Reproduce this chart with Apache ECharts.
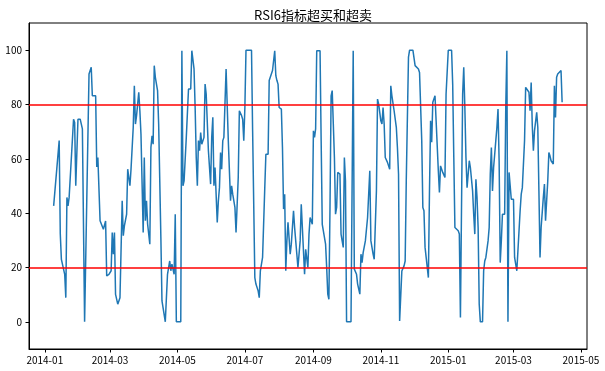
<!DOCTYPE html>
<html>
<head>
<meta charset="utf-8">
<script src="https://cdn.jsdelivr.net/npm/echarts@6/dist/echarts.min.js"></script>
<style>
html,body{margin:0;padding:0;background:#fff;}
#chart{width:605px;height:371px;}
</style>
</head>
<body>
<div id="chart"></div>
<script>
const titleText = 'RSI6指标超买和超卖';
const dates = [
'2014-01-09','2014-01-14','2014-01-15','2014-01-16','2014-01-19','2014-01-20','2014-01-21','2014-01-22','2014-01-23','2014-01-27',
'2014-01-28','2014-01-29','2014-01-31','2014-02-02','2014-02-04','2014-02-06','2014-02-10','2014-02-11','2014-02-12','2014-02-13',
'2014-02-16','2014-02-17','2014-02-18','2014-02-20','2014-02-23','2014-02-25','2014-02-26','2014-02-28','2014-03-02','2014-03-03',
'2014-03-04','2014-03-05','2014-03-06','2014-03-08','2014-03-09','2014-03-10','2014-03-12','2014-03-13','2014-03-14','2014-03-16',
'2014-03-17','2014-03-18','2014-03-19','2014-03-20','2014-03-22','2014-03-23','2014-03-24','2014-03-25','2014-03-27','2014-03-28',
'2014-03-29','2014-03-31','2014-04-01','2014-04-02','2014-04-03','2014-04-04','2014-04-06','2014-04-07','2014-04-08','2014-04-09',
'2014-04-10','2014-04-11','2014-04-13','2014-04-14','2014-04-16','2014-04-17','2014-04-20','2014-04-22','2014-04-24','2014-04-25',
'2014-04-26','2014-04-28','2014-04-29','2014-04-30','2014-05-04','2014-05-05','2014-05-06','2014-05-07','2014-05-09','2014-05-11',
'2014-05-13','2014-05-14','2014-05-15','2014-05-16','2014-05-17','2014-05-18','2014-05-19','2014-05-20','2014-05-21','2014-05-22',
'2014-05-23','2014-05-25','2014-05-26','2014-05-27','2014-05-29','2014-05-31','2014-06-01','2014-06-02','2014-06-03','2014-06-04',
'2014-06-05','2014-06-06','2014-06-07','2014-06-08','2014-06-09','2014-06-10','2014-06-11','2014-06-12','2014-06-14','2014-06-16',
'2014-06-18','2014-06-19','2014-06-20','2014-06-22','2014-06-23','2014-06-25','2014-06-26','2014-06-28','2014-06-29','2014-06-30',
'2014-07-01','2014-07-02','2014-07-07','2014-07-08','2014-07-10','2014-07-11','2014-07-13','2014-07-14','2014-07-15','2014-07-17',
'2014-07-19','2014-07-20','2014-07-22','2014-07-23','2014-07-26','2014-07-28','2014-07-29','2014-07-30','2014-07-31','2014-08-01',
'2014-08-02','2014-08-03','2014-08-04','2014-08-05','2014-08-06','2014-08-07','2014-08-08','2014-08-09','2014-08-11','2014-08-12',
'2014-08-14','2014-08-15','2014-08-17','2014-08-18','2014-08-20','2014-08-21','2014-08-23','2014-08-24','2014-08-25','2014-08-26',
'2014-08-27','2014-08-28','2014-08-29','2014-08-31','2014-09-01','2014-09-02','2014-09-03','2014-09-04','2014-09-07','2014-09-08',
'2014-09-09','2014-09-10','2014-09-12','2014-09-13','2014-09-14','2014-09-15','2014-09-16','2014-09-17','2014-09-18','2014-09-19',
'2014-09-20','2014-09-21','2014-09-22','2014-09-23','2014-09-25','2014-09-26','2014-09-27','2014-09-28','2014-09-29','2014-09-30',
'2014-10-01','2014-10-05','2014-10-07','2014-10-08','2014-10-10','2014-10-11','2014-10-13','2014-10-14','2014-10-15','2014-10-16',
'2014-10-18','2014-10-20','2014-10-22','2014-10-23','2014-10-24','2014-10-25','2014-10-26','2014-10-28','2014-10-29','2014-10-30',
'2014-11-01','2014-11-02','2014-11-03','2014-11-04','2014-11-05','2014-11-07','2014-11-09','2014-11-10','2014-11-11','2014-11-12',
'2014-11-13','2014-11-15','2014-11-16','2014-11-17','2014-11-18','2014-11-20','2014-11-22','2014-11-23','2014-11-24','2014-11-26',
'2014-11-27','2014-11-30','2014-12-02','2014-12-03','2014-12-05','2014-12-06','2014-12-07','2014-12-08','2014-12-09','2014-12-10',
'2014-12-11','2014-12-12','2014-12-14','2014-12-15','2014-12-16','2014-12-17','2014-12-18','2014-12-19','2014-12-20','2014-12-21',
'2014-12-23','2014-12-24','2014-12-25','2014-12-27','2014-12-29','2014-12-30','2015-01-01','2015-01-04','2015-01-05','2015-01-06',
'2015-01-07','2015-01-08','2015-01-10','2015-01-11','2015-01-12','2015-01-14','2015-01-15','2015-01-16','2015-01-17','2015-01-18',
'2015-01-19','2015-01-20','2015-01-21','2015-01-23','2015-01-24','2015-01-25','2015-01-26','2015-01-27','2015-01-28','2015-01-29',
'2015-01-30','2015-02-01','2015-02-02','2015-02-03','2015-02-04','2015-02-05','2015-02-06','2015-02-07','2015-02-08','2015-02-09',
'2015-02-10','2015-02-11','2015-02-12','2015-02-13','2015-02-14','2015-02-15','2015-02-16','2015-02-17','2015-02-18','2015-02-19',
'2015-02-21','2015-02-22','2015-02-23','2015-02-24','2015-02-25','2015-02-26','2015-02-27','2015-03-01','2015-03-02','2015-03-03',
'2015-03-04','2015-03-05','2015-03-07','2015-03-08','2015-03-09','2015-03-10','2015-03-11','2015-03-12','2015-03-13','2015-03-15',
'2015-03-16','2015-03-17','2015-03-18','2015-03-19','2015-03-20','2015-03-22','2015-03-23','2015-03-24','2015-03-25','2015-03-26',
'2015-03-28','2015-03-29','2015-03-30','2015-04-01','2015-04-02','2015-04-03','2015-04-04','2015-04-06','2015-04-07','2015-04-08',
'2015-04-09','2015-04-10','2015-04-11','2015-04-13','2015-04-14'
];
const rsi6 = [
42.7,66.7,32.3,23.0,17.5,8.9,45.8,42.7,45.8,74.6,
73.4,50.1,74.6,74.6,71.0,0,91.2,91.8,93.7,83.2,
83.2,57.0,60.5,37.2,34.1,37.1,16.9,17.5,18.8,32.9,
24.9,32.9,10.1,6.5,5.9,8.9,44.6,31.7,35.3,39.6,
56.2,56.2,50.1,56.2,71.6,86.9,72.8,75.9,84.5,77.7,
69.1,32.9,60.5,37.2,44.6,36.0,28.6,64.2,68.5,65.4,
94.3,90.0,85.1,72.8,31.0,7.7,0,17.5,22.4,18.8,
21.2,17.5,39.6,0,0,99.8,50.1,51.9,67.9,85.7,
85.7,99.8,99.8,93.1,78.9,60.5,50.1,66.7,63.0,69.7,
65.4,67.9,87.5,83.8,63.0,50.7,67.9,75.3,50.1,56.8,
56.8,36.6,44.5,49.4,62.3,56.2,66.7,67.9,93.1,66.7,
44.6,50.1,47.0,42.1,32.9,53.2,77.7,75.9,74.6,66.7,
78.9,100,100,70.4,16.3,13.9,11.4,8.9,18.8,23.7,
49.4,61.7,61.7,88.8,92.5,99.8,90.6,88.8,87.5,78.9,
78.9,78.3,64.2,41.5,47.0,18.8,29.8,36.6,24.9,28.6,
40.9,34.7,24.9,20.0,29.8,43.3,26.1,17.5,26.7,26.7,
20.0,32.3,38.4,35.9,70.3,67.9,71.0,99.8,99.8,66.7,
35.9,35.3,28.6,20.0,10.2,8.3,42.1,83.2,85.1,72.8,
60.5,39.6,42.1,55.0,54.4,32.3,29.8,27.4,60.5,51.9,
0,0,99.8,19.4,17.5,13.9,10.2,24.9,21.8,25.5,
29.8,38.4,55.6,29.8,29.2,24.9,23.0,48.2,82.0,80.2,
74.0,72.8,78.9,72.8,60.5,58.7,56.2,86.9,83.2,83.2,
77.7,71.6,64.2,54.4,0.3,18.7,20.6,22.4,51.9,97.4,
100,100,94.3,93.9,93.1,91.8,91.2,66.7,42.1,40.9,
27.4,23.7,16.3,48.2,74.0,66.1,80.8,82.0,83.2,74.0,
55.6,47.6,57.4,55.0,53.1,83.8,100,100,87.5,60.5,
34.7,34.1,33.5,32.3,1.6,83.8,93.7,78.9,60.5,49.4,
49.4,59.3,56.8,48.2,39.6,32.3,52.5,45.8,34.7,6.5,
0,0,18.8,22.4,23.7,23.0,29.8,34.7,54.4,64.2,
48.2,56.8,61.7,66.7,71.6,78.3,59.3,21.8,29.8,39.6,
39.6,78.9,99.8,0,55.0,55.6,45.1,45.1,23.7,21.2,
18.8,26.1,40.9,47.0,49.4,50.1,66.7,86.3,85.7,84.5,
77.7,88.1,72.2,63.0,70.3,77.1,71.6,48.2,23.7,34.7,
45.8,50.7,37.2,51.9,62.3,61.1,59.3,58.1,86.9,75.2,
90.0,91.2,91.8,92.5,80.8
];
const yTicks = [0, 20, 40, 60, 80, 100];
const xTicks = ['2014-01-01','2014-03-01','2014-05-01','2014-07-01','2014-09-01','2014-11-01','2015-01-01','2015-03-01','2015-05-01'];
const thresholds = [20, 80];

const parse = s => +echarts.number.parseDate(s);
const fmtMonth = v => {
  const d = new Date(v);
  const m = d.getMonth() + 1;
  return d.getFullYear() + '-' + (m < 10 ? '0' + m : '' + m);
};
const font = '"Noto Sans CJK SC", "DejaVu Sans", sans-serif';

const chart = echarts.init(document.getElementById('chart'), null, {renderer: 'canvas'});
chart.setOption({
  animation: false,
  backgroundColor: '#fff',
  title: {
    text: titleText,
    left: 308, top: 4, textAlign: 'center',
    textStyle: {fontSize: 13, fontWeight: 'normal', color: '#000', fontFamily: font}
  },
  grid: {
    left: 29, right: 18, top: 23, bottom: 22,
    show: true, borderColor: '#000', borderWidth: 1,
    outerBoundsMode: 'none'
  },
  xAxis: {
    type: 'value',
    min: parse('2013-12-17 16:48:00'),
    max: parse('2015-05-06 12:00:00'),
    axisLine: {show: true, onZero: false, lineStyle: {color: '#000', width: 1}},
    axisTick: {show: true, length: 3.5, lineStyle: {color: '#000', width: 1}, customValues: xTicks.map(parse)},
    axisLabel: {
      customValues: xTicks.map(parse),
      formatter: fmtMonth,
      color: '#000', fontSize: 10, fontFamily: font, margin: 6
    },
    splitLine: {show: false}
  },
  yAxis: {
    type: 'value',
    min: -10, max: 110,
    axisLine: {show: true, onZero: false, lineStyle: {color: '#000', width: 1}},
    axisTick: {show: true, length: 3.5, lineStyle: {color: '#000', width: 1}, customValues: yTicks},
    axisLabel: {customValues: yTicks, color: '#000', fontSize: 10, fontFamily: font, margin: 7},
    splitLine: {show: false}
  },
  series: [{
    type: 'line',
    data: dates.map((d, i) => [parse(d), rsi6[i]]),
    showSymbol: false,
    symbol: 'none',
    lineStyle: {color: '#1f77b4', width: 1.5},
    itemStyle: {color: '#1f77b4'},
    markLine: {
      silent: true,
      symbol: ['none', 'none'],
      label: {show: false},
      lineStyle: {color: '#ff0000', width: 1.5, type: 'solid'},
      data: thresholds.map(v => ({yAxis: v}))
    }
  }]
});
</script>
</body>
</html>
